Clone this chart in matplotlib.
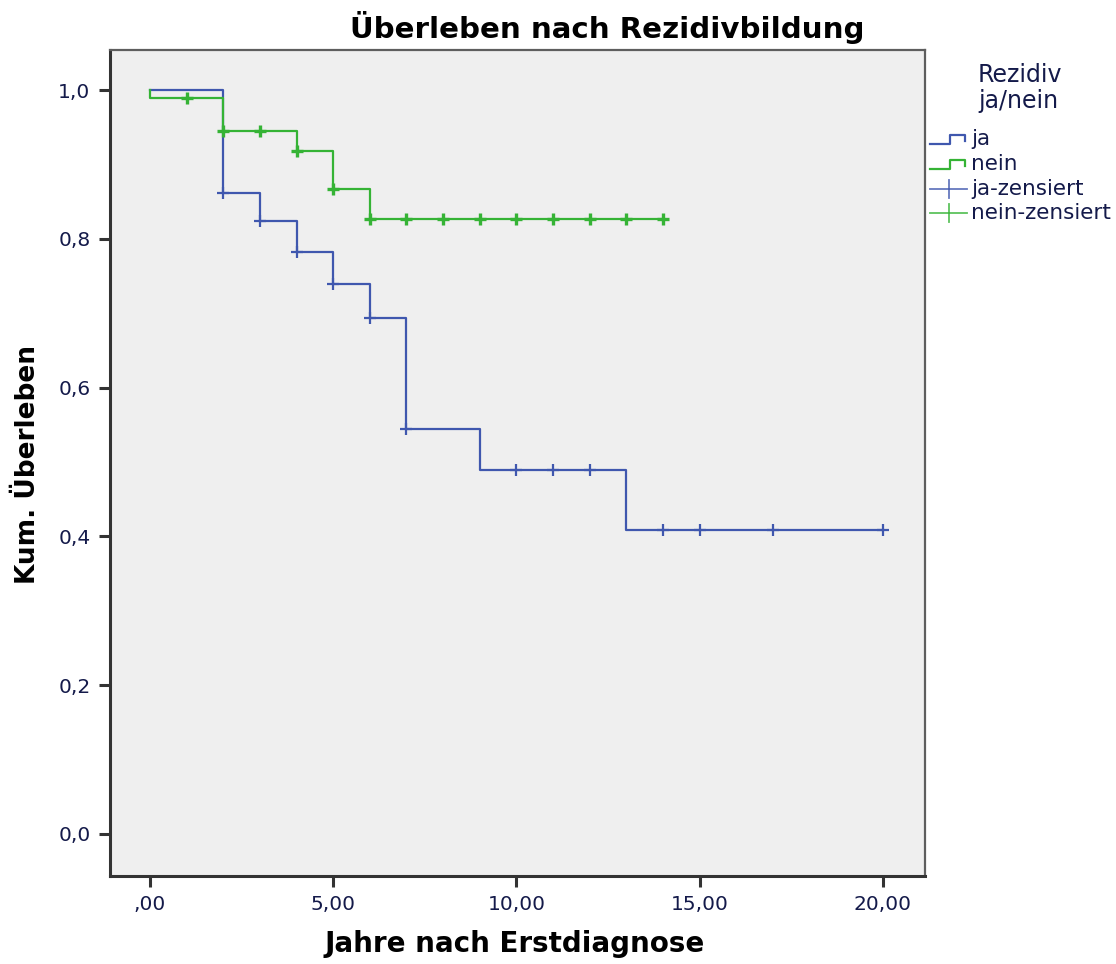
import matplotlib
matplotlib.use("Agg")
import matplotlib.pyplot as plt
from matplotlib.lines import Line2D
from matplotlib.ticker import FixedLocator, FuncFormatter

# Kaplan-Meier step data (time in years, cumulative survival)
ja_times = [0, 2, 3, 4, 5, 6, 7, 9, 13, 20]
ja_surv = [1.0, 0.862, 0.824, 0.783, 0.740, 0.694, 0.544, 0.490, 0.409, 0.409]
ja_cens_times = [2, 3, 4, 5, 6, 7, 10, 11, 12, 14, 15, 17, 20]

nein_times = [0, 0, 2, 4, 5, 6, 14]
nein_surv = [1.0, 0.990, 0.945, 0.918, 0.867, 0.827, 0.827]
nein_cens_times = [1, 2, 3, 4, 5, 6, 7, 8, 9, 10, 11, 12, 13, 14]

x_ticks = [0, 5, 10, 15, 20]
x_tick_labels = [",00", "5,00", "10,00", "15,00", "20,00"]
y_ticks = [0.0, 0.2, 0.4, 0.6, 0.8, 1.0]
y_tick_labels = ["0,0", "0,2", "0,4", "0,6", "0,8", "1,0"]

legend_title = "Rezidiv\nja/nein"
legend_labels = ["ja", "nein", "ja-zensiert", "nein-zensiert"]

BLUE = "#3F57AE"
GREEN = "#35B335"
TEXT = "#141A4A"

plt.rcParams["font.family"] = ["DejaVu Sans"]

W, H = 1116, 964
fig = plt.figure(figsize=(W / 100, H / 100), dpi=100)
ax = fig.add_axes([110 / W, 1 - 876 / H, 815 / W, 826 / H])
ax.set_facecolor("#EFEFEF")


def surv_at(times, surv, t):
    val = surv[0]
    for ti, si in zip(times, surv):
        if ti <= t:
            val = si
    return val


ax.step(ja_times, ja_surv, where="post", color=BLUE, lw=1.6, zorder=3)
ax.step(nein_times, nein_surv, where="post", color=GREEN, lw=1.6, zorder=3)

ax.plot(ja_cens_times, [surv_at(ja_times, ja_surv, t) for t in ja_cens_times],
        ls="none", marker="+", ms=9, mew=1.6, color=BLUE, zorder=4)
ax.plot(nein_cens_times, [surv_at(nein_times, nein_surv, t) for t in nein_cens_times],
        ls="none", marker="+", ms=9, mew=2.4, color=GREEN, zorder=4)

ax.set_xlim(-1.09, 21.15)
ax.set_ylim(-0.0565, 1.054)
ax.xaxis.set_major_locator(FixedLocator(x_ticks))
ax.xaxis.set_major_formatter(FuncFormatter(lambda v, p: x_tick_labels[x_ticks.index(round(v))]))
ax.yaxis.set_major_locator(FixedLocator(y_ticks))
ax.yaxis.set_major_formatter(FuncFormatter(lambda v, p: y_tick_labels[int(round(v * 5))]))
ax.tick_params(direction="out", length=8, width=2.2, color="#333333",
               labelsize=14.5, labelcolor=TEXT, pad=6)

for side in ["left", "bottom"]:
    ax.spines[side].set_color("#333333")
    ax.spines[side].set_linewidth(2.2)
for side in ["top", "right"]:
    ax.spines[side].set_color("#5E5E5E")
    ax.spines[side].set_linewidth(1.6)

fig.text(607 / W, 1 - 27 / H, "Überleben nach Rezidivbildung", fontsize=21.1,
         fontweight="bold", ha="center", va="center")
fig.text(515 / W, 1 - 944 / H, "Jahre nach Erstdiagnose", fontsize=20,
         fontweight="bold", ha="center", va="center")
fig.text(28 / W, 1 - 465 / H, "Kum. Überleben", fontsize=19, fontweight="bold",
         ha="center", va="center", rotation=90)

# Legend, placed in figure pixel coordinates
def fx(px):
    return px / W


def fy(py):
    return 1 - py / H


title_lines = legend_title.split("\n")
fig.text(fx(1020), fy(75), title_lines[0], fontsize=17, color=TEXT,
         ha="center", va="center")
fig.text(fx(1018), fy(101), title_lines[1], fontsize=17, color=TEXT,
         ha="center", va="center")

row_y = [138, 163, 188, 212]
colors = [BLUE, GREEN, BLUE, GREEN]
for i, (lab, col, yy) in enumerate(zip(legend_labels, colors, row_y)):
    if i < 2:
        xs = [930, 950, 950, 965, 965]
        ys = [yy + 6, yy + 6, yy - 3, yy - 3, yy + 3]
        fig.add_artist(Line2D([fx(x) for x in xs], [fy(y) for y in ys],
                              color=col, lw=1.6, transform=fig.transFigure))
    else:
        fig.add_artist(Line2D([fx(930), fx(967)], [fy(yy + 1), fy(yy + 1)],
                              color=col, lw=1.3, alpha=0.8,
                              transform=fig.transFigure))
        fig.add_artist(Line2D([fx(949), fx(949)], [fy(yy - 8), fy(yy + 10)],
                              color=col, lw=1.3, alpha=0.8,
                              transform=fig.transFigure))
    fig.text(fx(971), fy(yy + 1), lab, fontsize=15.5, color=TEXT,
             ha="left", va="center")

fig.savefig("out.png", dpi=100)
